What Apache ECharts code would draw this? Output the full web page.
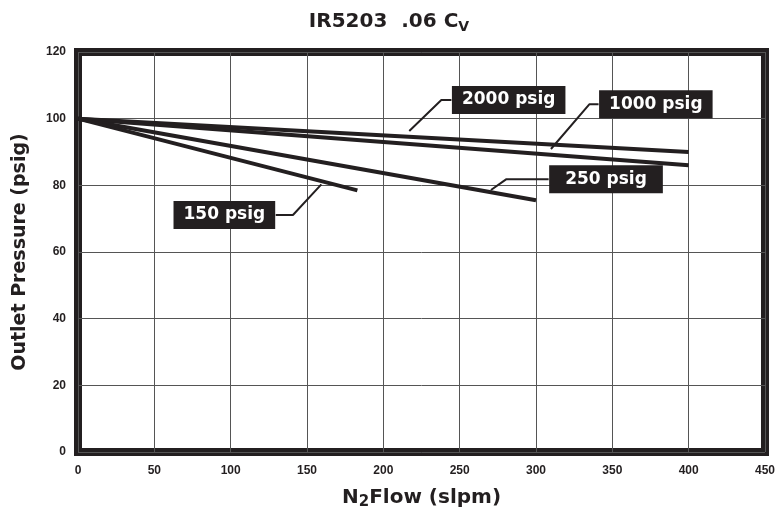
<!DOCTYPE html>
<html>
<head>
<meta charset="utf-8">
<script src="https://cdn.jsdelivr.net/npm/echarts@6/dist/echarts.min.js"></script>
<style>
  html, body { margin: 0; padding: 0; background: #fff; }
  #main { width: 778px; height: 516px; }
</style>
</head>
<body>
<div id="main"></div>
<script>
var myChart = echarts.init(document.getElementById('main'));

// pressure curves, [flow slpm, outlet psig]
const line2000 = [[0, 100], [400, 90]];
const line1000 = [[0, 100], [400, 86]];
const line250 = [[0, 100], [300, 75.5]];
const line150 = [[0, 100], [183, 78.5]];

// callout leaders, last point carries the label box
const callout2000 = [[217, 96.3], [238, 105.6], [244.6, 105.6]];
const callout1000 = [[309.8, 90.9], [334.9, 104.3], [341, 104.3]];
const callout250 = [[270.5, 78.6], [280.4, 81.8], [308.3, 81.8]];
const callout150 = [[159.4, 80.3], [140.8, 71.1], [129.5, 71.1]];

const xTicks = [0, 50, 100, 150, 200, 250, 300, 350, 400, 450];
const yTicks = [0, 20, 40, 60, 80, 100, 120];

const ink = '#231f20';

function curve(data) {
  return {
    type: 'line',
    data: data,
    symbol: 'none',
    silent: true,
    z: 5,
    lineStyle: { color: ink, width: 4 }
  };
}

function leader(pts) {
  return {
    type: 'line',
    data: pts,
    symbol: 'none',
    silent: true,
    z: 6,
    lineStyle: { color: ink, width: 2 }
  };
}

function tag(pts, text, side, padX) {
  return {
    type: 'scatter',
    data: [pts[pts.length - 1]],
    symbolSize: 1,
    itemStyle: { color: 'rgba(0,0,0,0)', opacity: 1 },
    silent: true,
    z: 7,
    label: {
      show: true,
      position: side,
      distance: 0,
      formatter: text,
      color: '#fff',
      backgroundColor: ink,
      fontFamily: 'DejaVu Sans',
      fontWeight: 'bold',
      fontSize: 17,
      padding: [6, padX, 5, padX]
    }
  };
}

const option = {
  backgroundColor: '#fff',
  animation: false,
  title: {
    text: '{a|IR5203  .06 C}{s|V}',
    left: 'center',
    top: 4,
    textStyle: {
      rich: {
        a: { fontFamily: 'DejaVu Sans', fontWeight: 'bold', fontSize: 20, color: ink, lineHeight: 26 },
        s: { fontFamily: 'DejaVu Sans', fontWeight: 'bold', fontSize: 14, color: ink, lineHeight: 26, padding: [10, 0, 0, 0] }
      }
    }
  },
  grid: {
    left: 78,
    right: 12,
    top: 52,
    bottom: 64,
    show: true,
    borderColor: ink,
    borderWidth: 8,
    backgroundColor: '#fff'
  },
  xAxis: {
    type: 'value',
    min: xTicks[0],
    max: xTicks[xTicks.length - 1],
    interval: 50,
    name: '{a|N}{s|2}{a|Flow (slpm)}',
    nameLocation: 'middle',
    nameGap: 33,
    nameTextStyle: {
      rich: {
        a: { fontFamily: 'DejaVu Sans', fontWeight: 'bold', fontSize: 20, color: ink, lineHeight: 26 },
        s: { fontFamily: 'DejaVu Sans', fontWeight: 'bold', fontSize: 15, color: ink, lineHeight: 26, padding: [8, 0, 0, 0] }
      }
    },
    axisLine: { show: false },
    axisTick: { show: false },
    axisLabel: {
      margin: 13,
      color: ink,
      fontFamily: 'Liberation Sans',
      fontWeight: 'bold',
      fontSize: 12
    },
    splitLine: { show: true, lineStyle: { color: '#555', width: 1 } }
  },
  yAxis: {
    type: 'value',
    min: yTicks[0],
    max: yTicks[yTicks.length - 1],
    interval: 20,
    name: 'Outlet Pressure (psig)',
    nameLocation: 'middle',
    nameGap: 48,
    nameTextStyle: {
      fontFamily: 'DejaVu Sans',
      fontWeight: 'bold',
      fontSize: 19,
      color: ink
    },
    axisLine: { show: false },
    axisTick: { show: false },
    axisLabel: {
      margin: 12,
      color: ink,
      fontFamily: 'Liberation Sans',
      fontWeight: 'bold',
      fontSize: 12
    },
    splitLine: { show: true, lineStyle: { color: '#555', width: 1 } }
  },
  series: [
    curve(line2000),
    curve(line1000),
    curve(line250),
    curve(line150),
    leader(callout2000),
    leader(callout1000),
    leader(callout250),
    leader(callout150),
    tag(callout2000, '2000 psig', 'right', 10),
    tag(callout1000, '1000 psig', 'right', 10),
    tag(callout250, '250 psig', 'right', 16),
    tag(callout150, '150 psig', 'left', 10)
  ]
};

myChart.setOption(option);
</script>
</body>
</html>
